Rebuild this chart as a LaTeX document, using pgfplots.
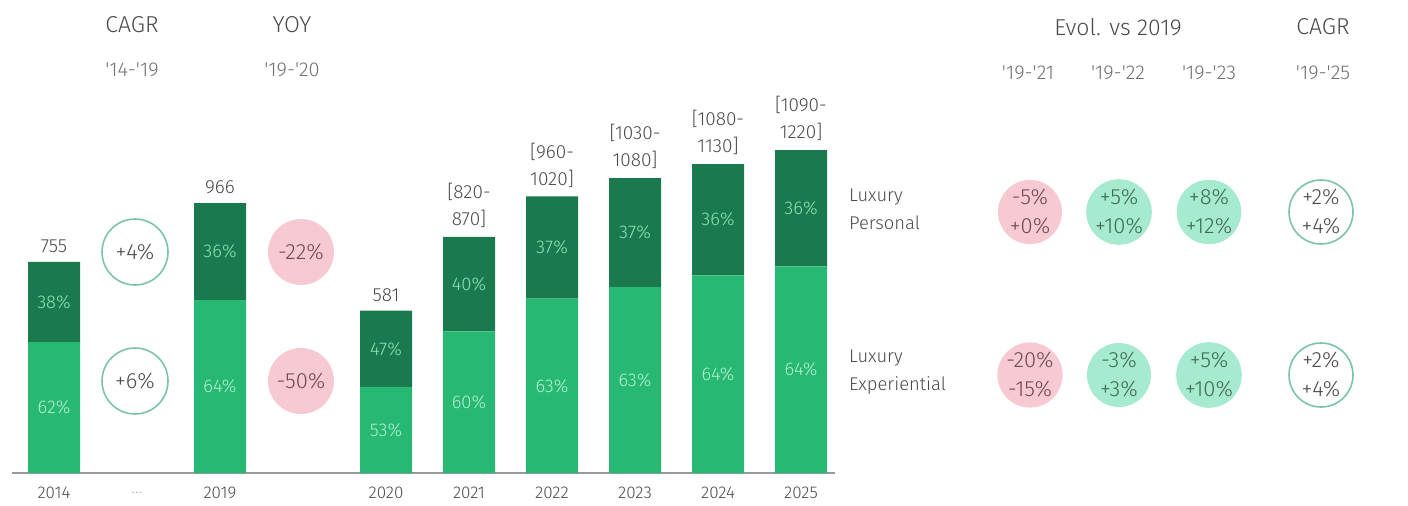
\documentclass[border=0pt]{standalone}
\usepackage{pgfplots}
\pgfplotsset{compat=1.18}
\usepackage{pgfplotstable}
\usepackage{fontspec}
\setmainfont{Fira Sans Light}
\definecolor{darkg}{HTML}{1A7A4E}
\definecolor{lightg}{HTML}{27B873}
\definecolor{pinkc}{HTML}{F7C9D3}
\definecolor{mintc}{HTML}{A6EBCF}
\definecolor{ringc}{HTML}{7CC4A6}
\definecolor{txt}{HTML}{4A4A4A}
\definecolor{subtxt}{HTML}{707070}
\definecolor{ontxtd}{HTML}{8FE3B8}
\definecolor{ontxtl}{HTML}{B5F0D2}
\definecolor{pktxt}{HTML}{6E4A54}
\definecolor{mttxt}{HTML}{3E6A56}
\newcommand\q{\textquotesingle}
\pgfplotstableread{
x light dark
0 468.1 286.9
2 618.2 347.8
4 307.9 273.1
5 507.0 338.0
6 623.7 366.3
7 664.7 390.3
8 707.2 397.8
9 739.2 415.8
}\bars
\begin{document}
\begin{tikzpicture}[every node/.style={text=txt}]
\path[use as bounding box] (0,-16pt) rectangle (704pt,236.5pt);
\begin{axis}[
  scale only axis, width=704pt, height=236.5pt,
  at={(0,0)}, anchor=south west,
  xmin=-0.6506, xmax=16.313, ymin=0, ymax=1692.3,
  hide axis, ybar stacked, bar width=26pt, clip=false,
]
\addplot[fill=lightg, draw=none] table[x=x,y=light]{\bars};
\addplot[fill=darkg, draw=none] table[x=x,y=dark]{\bars};
\draw[black!40, line width=1pt] (axis cs:-0.506,0) -- (axis cs:9.41,0);
% year labels
\tikzset{yr/.style={font=\fontsize{8.5}{10}\selectfont, yshift=-10pt}}
\node[yr] at (axis cs:0,0) {2014};
\node[yr, text=black!30] at (axis cs:1,0) {...};
\node[yr] at (axis cs:2,0) {2019};
\node[yr] at (axis cs:4,0) {2020};
\node[yr] at (axis cs:5,0) {2021};
\node[yr] at (axis cs:6,0) {2022};
\node[yr] at (axis cs:7,0) {2023};
\node[yr] at (axis cs:8,0) {2024};
\node[yr] at (axis cs:9,0) {2025};
% totals
\tikzset{tot/.style={anchor=south, yshift=1pt, align=center, font=\fontsize{9.5}{13.5}\selectfont}}
\node[tot] at (axis cs:0,755) {755};
\node[tot] at (axis cs:2,966) {966};
\node[tot] at (axis cs:4,581) {581};
\node[tot] at (axis cs:5,845) {[820-\\870]};
\node[tot] at (axis cs:6,990) {[960-\\1020]};
\node[tot] at (axis cs:7,1055) {[1030-\\1080]};
\node[tot] at (axis cs:8,1105) {[1080-\\1130]};
\node[tot] at (axis cs:9,1155) {[1090-\\1220]};
% share label anchors (segment centres)
\coordinate (l0) at (axis cs:0,234.0);  \coordinate (d0) at (axis cs:0,611.5);
\coordinate (l2) at (axis cs:2,309.1);  \coordinate (d2) at (axis cs:2,792.1);
\coordinate (l4) at (axis cs:4,153.9);  \coordinate (d4) at (axis cs:4,444.4);
\coordinate (l5) at (axis cs:5,253.5);  \coordinate (d5) at (axis cs:5,676.0);
\coordinate (l6) at (axis cs:6,311.8);  \coordinate (d6) at (axis cs:6,806.8);
\coordinate (l7) at (axis cs:7,332.3);  \coordinate (d7) at (axis cs:7,859.8);
\coordinate (l8) at (axis cs:8,353.6);  \coordinate (d8) at (axis cs:8,906.1);
\coordinate (l9) at (axis cs:9,369.6);  \coordinate (d9) at (axis cs:9,947.1);
\end{axis}
\tikzset{sd/.style={text=ontxtd, font=\fontsize{9.2}{11}\selectfont},
         sl/.style={text=ontxtl, font=\fontsize{9.2}{11}\selectfont}}
\node[sl] at (l0) {62\%};  \node[sd] at (d0) {38\%};
\node[sl] at (l2) {64\%};  \node[sd] at (d2) {36\%};
\node[sl] at (l4) {53\%};  \node[sd] at (d4) {47\%};
\node[sl] at (l5) {60\%};  \node[sd] at (d5) {40\%};
\node[sl] at (l6) {63\%};  \node[sd] at (d6) {37\%};
\node[sl] at (l7) {63\%};  \node[sd] at (d7) {37\%};
\node[sl] at (l8) {64\%};  \node[sd] at (d8) {36\%};
\node[sl] at (l9) {64\%};  \node[sd] at (d9) {36\%};
\begin{scope}[shift={(0,236.5pt)}, x=0.5pt, y=-0.5pt]
\tikzset{hd/.style={font=\fontsize{11.5}{13}\selectfont},
         sh/.style={text=subtxt, font=\fontsize{10}{12}\selectfont},
         ring/.style={circle, draw=ringc, line width=0.8pt, minimum size=33pt, inner sep=0pt, align=center, text=txt, font=\fontsize{11}{14.5}\selectfont},
         pk/.style={circle, fill=pinkc, minimum size=33pt, inner sep=0pt, align=center, text=pktxt, font=\fontsize{11}{14.5}\selectfont},
         mt/.style={circle, fill=mintc, minimum size=32pt, inner sep=0pt, align=center, text=mttxt, font=\fontsize{11}{14.5}\selectfont},
         lg/.style={anchor=west, align=left, font=\fontsize{9.2}{14}\selectfont}}
\node[hd] at (132,25) {CAGR};
\node[sh] at (132,70) {\q14-\q19};
\node[hd] at (292,25) {YOY};
\node[sh] at (292,70) {\q19-\q20};
\node[ring] at (135,252) {+4\%};
\node[ring] at (135,381) {+6\%};
\node[pk] at (301,252) {-22\%};
\node[pk] at (301,381) {-50\%};
\node[lg] at (842,209) {Luxury\\Personal};
\node[lg] at (842,372) {Luxury\\Experiential};
\node[hd] at (1118,27) {Evol. vs 2019};
\node[hd] at (1323,27) {CAGR};
\node[sh] at (1028,73) {\q19-\q21};
\node[sh] at (1118,73) {\q19-\q22};
\node[sh] at (1209,73) {\q19-\q23};
\node[sh] at (1323,73) {\q19-\q25};
\node[pk, minimum size=32pt] at (1030,212) {-5\%\\+0\%};
\node[mt] at (1119,212) {+5\%\\+10\%};
\node[mt] at (1209,212) {+8\%\\+12\%};
\node[ring, minimum size=32pt] at (1321,212) {+2\%\\+4\%};
\node[pk, minimum size=32pt] at (1030,375) {-20\%\\-15\%};
\node[mt] at (1119,375) {-3\%\\+3\%};
\node[mt] at (1209,375) {+5\%\\+10\%};
\node[ring, minimum size=32pt] at (1321,375) {+2\%\\+4\%};
\end{scope}
\end{tikzpicture}
\end{document}
